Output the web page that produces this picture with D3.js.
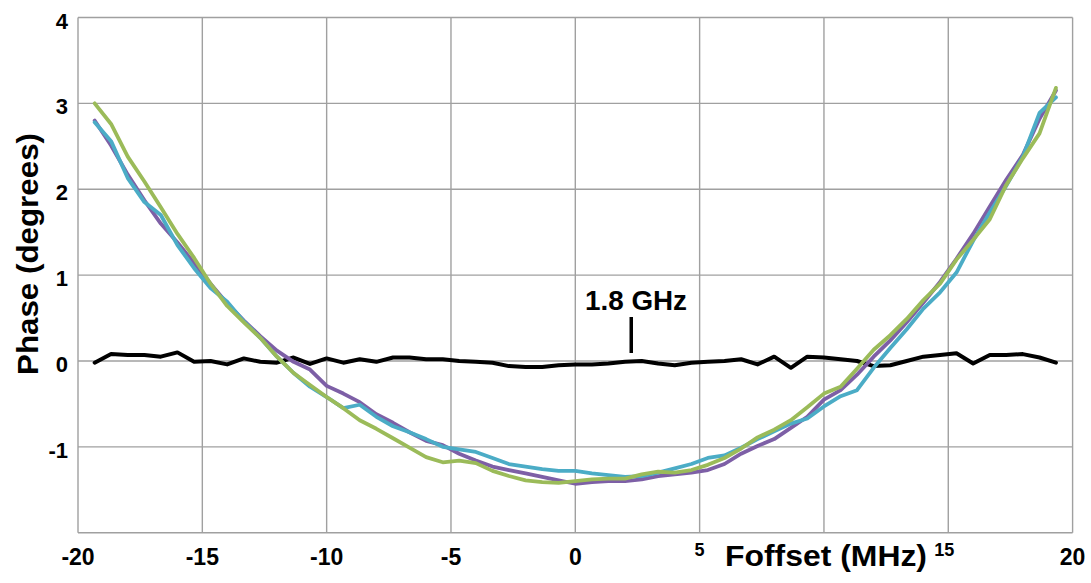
<!DOCTYPE html>
<html><head><meta charset="utf-8">
<script src="https://cdn.jsdelivr.net/npm/d3@7"></script>
<style>
html,body{margin:0;padding:0;background:#fff;}
svg{display:block;font-family:"Liberation Sans",Arial,sans-serif;font-weight:bold;}
</style></head>
<body>
<svg id="chart" width="1091" height="583"></svg>
<script>
// Frequency offset (MHz), shared by all traces
const freq = [-19.33,-18.67,-18.00,-17.33,-16.67,-16.00,-15.33,-14.67,-14.00,-13.33,
  -12.67,-12.00,-11.33,-10.67,-10.00,-9.33,-8.67,-8.00,-7.33,-6.67,
  -6.00,-5.33,-4.67,-4.00,-3.33,-2.67,-2.00,-1.33,-0.67,0.00,
  0.67,1.33,2.00,2.67,3.33,4.00,4.67,5.33,6.00,6.67,
  7.33,8.00,8.67,9.33,10.00,10.67,11.33,12.00,12.67,13.33,
  14.00,14.67,15.33,16.00,16.67,17.33,18.00,18.67,19.33];

// Phase (degrees)
const phaseBlack = [-0.02,0.08,0.07,0.07,0.05,0.10,-0.01,0.00,-0.04,0.03,
  -0.01,-0.02,0.04,-0.035,0.03,-0.02,0.02,-0.01,0.04,0.04,
  0.02,0.02,0.00,-0.01,-0.02,-0.06,-0.07,-0.07,-0.05,-0.04,
  -0.04,-0.03,-0.01,0.00,-0.03,-0.05,-0.02,-0.01,0.00,0.02,
  -0.04,0.05,-0.08,0.05,0.04,0.02,0.00,-0.06,-0.05,0.00,
  0.05,0.07,0.09,-0.03,0.07,0.07,0.08,0.04,-0.02];

const phasePurple = [2.80,2.51,2.17,1.87,1.60,1.38,1.14,0.90,0.67,0.47,
  0.29,0.12,-0.01,-0.10,-0.29,-0.38,-0.48,-0.62,-0.72,-0.83,
  -0.93,-0.98,-1.08,-1.16,-1.23,-1.27,-1.31,-1.35,-1.39,-1.43,
  -1.41,-1.40,-1.40,-1.38,-1.34,-1.32,-1.30,-1.27,-1.20,-1.08,
  -0.99,-0.91,-0.78,-0.65,-0.45,-0.34,-0.16,0.05,0.24,0.45,
  0.68,0.92,1.19,1.48,1.80,2.11,2.40,2.82,3.15];

const phaseCyan = [2.78,2.56,2.13,1.85,1.70,1.35,1.08,0.85,0.69,0.46,
  0.27,0.05,-0.14,-0.30,-0.42,-0.55,-0.51,-0.65,-0.76,-0.83,
  -0.91,-1.00,-1.03,-1.06,-1.13,-1.20,-1.23,-1.26,-1.28,-1.28,
  -1.31,-1.33,-1.35,-1.34,-1.30,-1.25,-1.20,-1.13,-1.10,-1.01,
  -0.91,-0.82,-0.73,-0.67,-0.53,-0.41,-0.34,-0.08,0.15,0.37,
  0.61,0.80,1.03,1.40,1.73,2.04,2.38,2.89,3.07];

const phaseGreen = [3.00,2.76,2.38,2.09,1.79,1.48,1.20,0.90,0.64,0.45,
  0.27,0.05,-0.14,-0.28,-0.42,-0.55,-0.69,-0.79,-0.90,-1.01,
  -1.12,-1.18,-1.16,-1.19,-1.28,-1.34,-1.39,-1.41,-1.42,-1.40,
  -1.38,-1.37,-1.37,-1.32,-1.29,-1.30,-1.27,-1.21,-1.13,-1.02,
  -0.89,-0.80,-0.69,-0.54,-0.38,-0.30,-0.09,0.13,0.30,0.49,
  0.71,0.90,1.18,1.41,1.65,2.05,2.36,2.65,3.18];

const xGrid = [-20,-15,-10,-5,0,5,10,15,20];
const xTickLabels = ["-20","-15","-10","-5","0"];   // large labels
const xSmallLabels = ["5","15"];                    // small labels near title
const xEndLabels = ["20"];
const yGrid = [-2,-1,0,1,2,3,4];
const yTickLabels = ["-1","0","1","2","3","4"];

const svg = d3.select("#chart");
const pLeft = 78, pRight = 1072.6, pTop = 17.5, pBottom = 532.7;
const x = d3.scaleLinear().domain([-20,20]).range([pLeft,pRight]);
const y = d3.scaleLinear().domain([-2,4]).range([pBottom,pTop]);

// gridlines
svg.append("g").selectAll("line").data(xGrid).join("line")
  .attr("x1",d=>x(d)).attr("x2",d=>x(d)).attr("y1",pTop).attr("y2",pBottom)
  .attr("stroke","#a0a0a0").attr("stroke-width",1.4);
svg.append("g").selectAll("line").data(yGrid).join("line")
  .attr("x1",pLeft).attr("x2",pRight).attr("y1",d=>y(d)).attr("y2",d=>y(d))
  .attr("stroke","#a0a0a0").attr("stroke-width",1.4);

// tick labels
svg.append("g").attr("font-size",23).attr("text-anchor","middle").attr("fill","#000")
  .selectAll("text").data(xTickLabels.concat(xEndLabels)).join("text")
  .attr("x",d=>x(+d)).attr("y",565).text(d=>d);
svg.append("g").attr("font-size",18).attr("text-anchor","middle").selectAll("text")
  .data(xSmallLabels).join("text")
  .attr("x",d=>x(+d)-(d==="15"?4:0)).attr("y",556).text(d=>d);

svg.append("g").attr("font-size",22).attr("text-anchor","end").selectAll("text")
  .data(yTickLabels).join("text")
  .attr("x",68).attr("y",d=>y(+d)+11).text(d=>d);

// axis titles
svg.append("text").attr("x",725).attr("y",566).attr("font-size",30)
  .attr("textLength",202).attr("lengthAdjust","spacingAndGlyphs").text("Foffset (MHz)");
svg.append("text").attr("transform","translate(38,375) rotate(-90)")
  .attr("font-size",30).attr("textLength",242).attr("lengthAdjust","spacingAndGlyphs")
  .text("Phase (degrees)");

// lines
const line = d3.line().x((d,i)=>x(freq[i])).y(d=>y(d));
const series = [
  {v:phaseBlack, c:"#000000", w:4},
  {v:phasePurple, c:"#7d5fa6", w:3.8},
  {v:phaseCyan, c:"#4bacc6", w:3.8},
  {v:phaseGreen, c:"#9bbb59", w:3.8}
];
svg.append("g").selectAll("path").data(series).join("path")
  .attr("d",d=>line(d.v)).attr("fill","none")
  .attr("stroke",d=>d.c).attr("stroke-width",d=>d.w)
  .attr("stroke-linejoin","round").attr("stroke-linecap","round");

// annotation
svg.append("text").attr("x",636).attr("y",310).attr("font-size",27)
  .attr("text-anchor","middle").attr("textLength",102).attr("lengthAdjust","spacingAndGlyphs")
  .text("1.8 GHz");
svg.append("line").attr("x1",x(2.25)).attr("x2",x(2.25)).attr("y1",317).attr("y2",353)
  .attr("stroke","#000").attr("stroke-width",3.5);
</script>
</body></html>
